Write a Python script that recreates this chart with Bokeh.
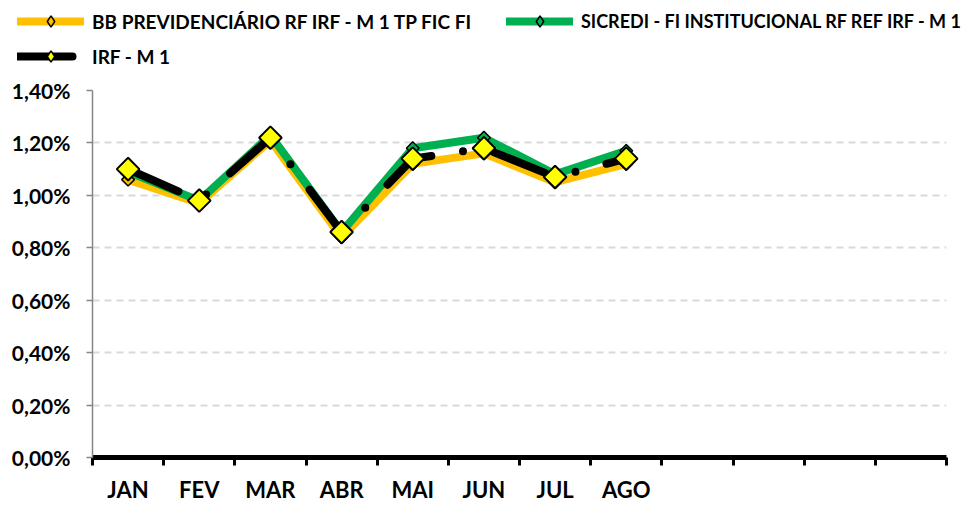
import math
from bokeh.plotting import figure
from bokeh.layouts import column
from bokeh.models import Range1d, FixedTicker, CustomJSTickFormatter, Legend, LegendItem
from bokeh.embed import file_html
from bokeh.resources import INLINE

# ---- data ----
months = ["JAN", "FEV", "MAR", "ABR", "MAI", "JUN", "JUL", "AGO"]
n_slots = 12  # one slot per month of the year
bb_name = "BB PREVIDENCIÁRIO RF IRF - M 1 TP FIC FI"
sicredi_name = "SICREDI - FI INSTITUCIONAL RF REF IRF - M 1"
irf_name = "IRF - M 1"
bb = [1.06, 0.97, 1.21, 0.84, 1.12, 1.16, 1.05, 1.12]
sicredi = [1.09, 0.98, 1.23, 0.86, 1.18, 1.22, 1.08, 1.17]
irf = [1.10, 0.98, 1.22, 0.86, 1.14, 1.18, 1.07, 1.14]
y_ticks = [0.0, 0.2, 0.4, 0.6, 0.8, 1.0, 1.2, 1.4]

FONT = "Lato"
ORANGE, GREEN, YELLOW = "#FFC000", "#00B050", "#FFFF00"
IRF_DASH = "55 32 0 32"
xs = [i + 0.5 for i in range(len(months))]

# ---------------- main chart ----------------
p = figure(width=973, height=435, output_backend="svg", toolbar_location=None,
           x_range=Range1d(0, n_slots), y_range=Range1d(y_ticks[0], y_ticks[-1]),
           min_border_left=92, min_border_right=27, min_border_top=20, min_border_bottom=47)
p.frame_align = False
p.outline_line_color = None
p.background_fill_color = "white"
p.border_fill_color = "white"

p.xgrid.visible = False
p.ygrid.ticker = FixedTicker(ticks=y_ticks)
p.ygrid.grid_line_color = "#d9d9d9"
p.ygrid.grid_line_width = 2
p.ygrid.grid_line_dash = "7 5"

p.yaxis.ticker = FixedTicker(ticks=y_ticks)
p.yaxis.formatter = CustomJSTickFormatter(code="return tick.toFixed(2).replace('.', ',') + '%';")
p.yaxis.axis_line_color = "#868686"
p.yaxis.axis_line_width = 1.5
p.yaxis.major_tick_line_color = "#868686"
p.yaxis.major_tick_line_width = 1.5
p.yaxis.major_tick_out = 6
p.yaxis.major_tick_in = 0
p.yaxis.minor_tick_line_color = None
p.yaxis.major_label_standoff = 16
p.yaxis.major_label_text_font = FONT
p.yaxis.major_label_text_font_style = "bold"
p.yaxis.major_label_text_font_size = "21px"
p.yaxis.major_label_text_color = "black"

p.xaxis.ticker = FixedTicker(ticks=xs, minor_ticks=list(range(n_slots + 1)))
p.xaxis.formatter = CustomJSTickFormatter(args=dict(months=months),
                                          code="const i = Math.round(tick - 0.5); return months[i] || '';")
p.xaxis.axis_line_color = "black"
p.xaxis.axis_line_width = 5
p.xaxis.major_tick_line_color = None
p.xaxis.major_tick_out = 0
p.xaxis.major_tick_in = 0
p.xaxis.minor_tick_line_color = "black"
p.xaxis.minor_tick_line_width = 3
p.xaxis.minor_tick_out = 8
p.xaxis.minor_tick_in = 0
p.xaxis.major_label_standoff = 10
p.xaxis.major_label_text_font = FONT
p.xaxis.major_label_text_font_style = "bold"
p.xaxis.major_label_text_font_size = "22px"
p.xaxis.major_label_text_color = "black"

p.line(xs, bb, line_color=ORANGE, line_width=8, line_join="round", line_cap="round")
p.line(xs, sicredi, line_color=GREEN, line_width=8, line_join="round", line_cap="round")
p.line(xs, irf, line_color="black", line_width=8, line_join="round", line_cap="round",
       line_dash=IRF_DASH)
p.scatter(xs, bb, marker="square", angle=math.pi / 4, size=9,
          fill_color=ORANGE, line_color="black", line_width=1.5)
p.scatter(xs, sicredi, marker="square", angle=math.pi / 4, size=9,
          fill_color=GREEN, line_color="black", line_width=1.5)
p.scatter(xs, irf, marker="square", angle=math.pi / 4, size=16,
          fill_color=YELLOW, line_color="black", line_width=2)

# ---------------- legend strip (own figure so nothing is clipped) ----------------
# its ranges exclude the data, so the renderers only feed the legend samples
lf = figure(width=973, height=70, output_backend="svg", toolbar_location=None,
            x_range=Range1d(-2, -1), y_range=Range1d(-2, -1),
            x_axis_location=None, y_axis_location=None,
            min_border_left=0, min_border_right=0, min_border_top=0, min_border_bottom=0)
lf.frame_align = False
lf.outline_line_color = None
lf.xgrid.visible = False
lf.ygrid.visible = False
lf.background_fill_color = "white"
lf.border_fill_color = "white"

def legend_renderers(values, color, dash, mfill):
    ln = lf.line(xs, values, line_color=color, line_width=8, line_cap="round", line_dash=dash)
    mk = lf.scatter(xs, values, marker="diamond", size=10,
                    fill_color=mfill, line_color="black", line_width=1.5)
    return [ln, mk]

r_bb = legend_renderers(bb, ORANGE, "solid", ORANGE)
r_si = legend_renderers(sicredi, GREEN, "solid", GREEN)
r_irf = legend_renderers(irf, "black", IRF_DASH, YELLOW)

def make_legend(items, loc, font_size):
    lg = Legend(items=items, location=loc, orientation="vertical",
                glyph_width=67, glyph_height=28, label_height=28, label_standoff=8,
                spacing=7, padding=0, margin=0,
                border_line_color=None, background_fill_alpha=0,
                label_text_font=FONT, label_text_font_style="bold",
                label_text_font_size=font_size, label_text_color="black")
    lf.add_layout(lg, "center")
    return lg

make_legend([LegendItem(label=bb_name, renderers=r_bb),
             LegendItem(label=irf_name, renderers=r_irf)], (17, 0), "19px")
make_legend([LegendItem(label=sicredi_name, renderers=r_si)], (506, 35), "18px")

open("out.html", "w").write(file_html(column(lf, p, spacing=0), INLINE))
